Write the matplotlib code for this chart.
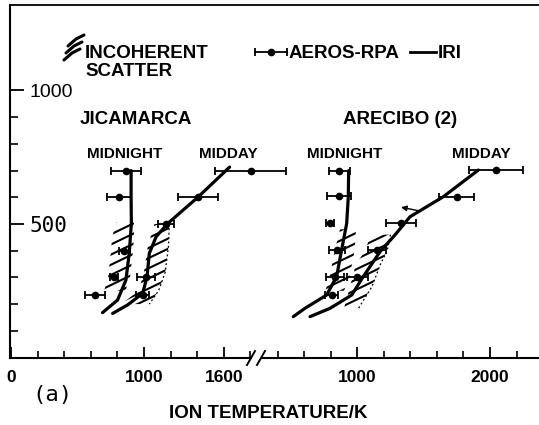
import matplotlib
matplotlib.use("Agg")
import numpy as np
import matplotlib.pyplot as plt
from matplotlib.lines import Line2D
from matplotlib.patches import Polygon
from matplotlib.ticker import FixedLocator

plt.rcParams['font.family'] = ['Liberation Sans', 'DejaVu Sans']
plt.rcParams['font.weight'] = 'bold'

# ---------------- data (altitude km, ion temperature K) ----------------
# Jicamarca (left panel)
jic_mn_alt = [700, 600, 400, 300, 235]
jic_mn_T = [864, 814, 851, 776, 630]
jic_mn_err = [110, 90, 40, 30, 75]
jic_md_alt = [700, 600, 500, 300, 235]
jic_md_T = [1802, 1405, 1166, 1015, 990]
jic_md_err = [270, 150, 60, 65, 50]
jic_iri_mn_alt = [700, 600, 502, 391, 290, 215, 168]
jic_iri_mn_T = [903, 903, 905, 889, 864, 801, 688]
jic_iri_md_alt = [713, 600, 502, 452, 390, 303, 240, 197, 165]
jic_iri_md_T = [1644, 1405, 1179, 1091, 1040, 1023, 990, 877, 764]
jic_is_mn_alt = [505, 450, 390, 300, 250]
jic_is_mn_lo = [790, 760, 750, 730, 700]
jic_is_mn_hi = [925, 925, 915, 895, 860]
jic_is_md_alt = [500, 420, 320, 250, 200]
jic_is_md_lo = [1080, 1030, 1000, 960, 830]
jic_is_md_hi = [1190, 1185, 1160, 1110, 1040]

# Arecibo (right panel)
are_mn_alt = [700, 605, 502, 403, 303, 234]
are_mn_T = [864, 864, 794, 849, 832, 807]
are_mn_err = [78, 90, 30, 62, 69, 50]
are_md_alt = [702, 602, 502, 403, 303]
are_md_T = [2045, 1749, 1330, 1146, 1000]
are_md_err = [200, 132, 110, 69, 80]
are_iri_mn_alt = [700, 600, 502, 403, 303, 234, 184, 153]
are_iri_mn_T = [935, 932, 920, 882, 844, 769, 605, 518]
are_iri_md_alt = [702, 602, 527, 459, 396, 303, 234, 184, 153]
are_iri_md_T = [1912, 1648, 1397, 1284, 1171, 1045, 958, 794, 644]
are_is_mn_alt = [480, 400, 300, 250]
are_is_mn_lo = [870, 830, 790, 760]
are_is_mn_hi = [990, 980, 940, 900]
are_is_md_alt = [460, 400, 350, 265, 185]
are_is_md_lo = [1100, 1060, 990, 945, 900]
are_is_md_hi = [1250, 1225, 1175, 1110, 1010]
are_arrow_T = [1497, 1309]
are_arrow_alt = [546, 565]

left_major = [0, 1000, 1600]
left_minor = [200, 400, 600, 800, 1200, 1400, 1800]
right_major = [1000, 2000]
right_minor = [400, 600, 800, 1200, 1400, 1600, 1800, 2200]
y_major = [500, 1000]
y_minor = [100, 200, 300, 400, 600, 700, 800, 900]

# ---------------- layout helpers ----------------
W, H = 539, 425
def fx(x):
    return x / W
def fy(y):
    return 1 - y / H

fig = plt.figure(figsize=(W / 100, H / 100), dpi=100)
bot, top = 357.5, 5
axL = fig.add_axes([fx(10), fy(bot), (251 - 10) / W, (bot - top) / H])
axR = fig.add_axes([fx(262), fy(bot), (539 - 262) / W, (bot - top) / H])

axL.set_xlim(-8, 1805)
axR.set_xlim(282, 2369)
for ax in (axL, axR):
    ax.set_ylim(0, 1320)
    ax.spines['top'].set_visible(False)
    ax.spines['right'].set_visible(False)
    ax.spines['bottom'].set_linewidth(1.5)
    ax.spines['left'].set_linewidth(1.5)
    ax.patch.set_alpha(0)
axR.spines['left'].set_visible(False)
axR.set_yticks([])

LW_IRI = 2.3


def band(ax, alt, lo, hi, dotted=False):
    """Incoherent-scatter band drawn as shallow diagonal hatch strokes."""
    verts = list(zip(lo, alt)) + list(zip(hi[::-1], alt[::-1]))
    poly = Polygon(verts, closed=True, facecolor='none', edgecolor='none')
    ax.add_patch(poly)
    x0, x1 = min(lo) - 200, max(hi) + 200
    slope = 0.24   # km per K  (~25 degrees on screen)
    step = 38      # km between strokes
    for b in np.arange(min(alt) - 400 + step / 2, max(alt) + 100, step):
        ln, = ax.plot([x0, x1], [b, b + slope * (x1 - x0)], color='k',
                      lw=1.5, solid_capstyle='butt')
        ln.set_clip_path(poly)
    if dotted:
        ax.plot(hi, alt, color='k', lw=0.9, ls=(0, (1.5, 2)))


def eb(ax, T, alt, err):
    c = ax.errorbar(T, alt, xerr=err, fmt='o', ms=4.5, color='k',
                    capsize=3, elinewidth=1.3, capthick=1.3)
    for a in [c[0], *c[1], *c[2]]:
        a.set_clip_on(False)

# Jicamarca
band(axL, jic_is_mn_alt, jic_is_mn_lo, jic_is_mn_hi)
band(axL, jic_is_md_alt, jic_is_md_lo, jic_is_md_hi, dotted=True)
axL.plot(jic_iri_mn_T, jic_iri_mn_alt, color='k', lw=LW_IRI, solid_capstyle='round')
axL.plot(jic_iri_md_T, jic_iri_md_alt, color='k', lw=LW_IRI, solid_capstyle='round')
eb(axL, jic_mn_T, jic_mn_alt, jic_mn_err)
eb(axL, jic_md_T, jic_md_alt, jic_md_err)

# Arecibo
band(axR, are_is_mn_alt, are_is_mn_lo, are_is_mn_hi)
band(axR, are_is_md_alt, are_is_md_lo, are_is_md_hi, dotted=True)
axR.plot(are_iri_mn_T, are_iri_mn_alt, color='k', lw=LW_IRI, solid_capstyle='round')
axR.plot(are_iri_md_T, are_iri_md_alt, color='k', lw=LW_IRI, solid_capstyle='round')
eb(axR, are_mn_T, are_mn_alt, are_mn_err)
eb(axR, are_md_T, are_md_alt, are_md_err)
axR.annotate('', xy=(are_arrow_T[1], are_arrow_alt[1]),
             xytext=(are_arrow_T[0], are_arrow_alt[0]),
             arrowprops=dict(arrowstyle='-|>', color='k', lw=1.0,
                             mutation_scale=8))

# ---------------- ticks ----------------
axL.xaxis.set_major_locator(FixedLocator(left_major))
axL.xaxis.set_minor_locator(FixedLocator(left_minor))
axL.set_xticklabels([str(v) for v in left_major])
axR.xaxis.set_major_locator(FixedLocator(right_major))
axR.xaxis.set_minor_locator(FixedLocator(right_minor))
axR.set_xticklabels([str(v) for v in right_major])
for ax in (axL, axR):
    ax.tick_params(axis='x', which='major', direction='in', length=8,
                   width=1.3, pad=9, labelsize=12.5)
    ax.tick_params(axis='x', which='minor', direction='in', length=5,
                   width=1.2)

axL.yaxis.set_major_locator(FixedLocator(y_major))
axL.yaxis.set_minor_locator(FixedLocator(y_minor))
axL.set_yticklabels([str(v) for v in y_major])
axL.tick_params(axis='y', which='major', direction='in', length=10,
                width=1.3, pad=-14)
axL.tick_params(axis='y', which='minor', direction='in', length=6, width=1.2)
ylabs = axL.get_yticklabels()
for lab in ylabs:
    lab.set_horizontalalignment('left')
ylabs[0].set_fontfamily('DejaVu Sans Mono')
ylabs[0].set_fontweight('normal')
ylabs[0].set_fontsize(15)
ylabs[1].set_fontsize(14)
ylabs[1].set_fontweight('normal')

# ---------------- decorations ----------------
fig.add_artist(Line2D([fx(10), fx(539)], [fy(top), fy(top)],
                      transform=fig.transFigure, color='k', lw=1.3))
for x0 in (247, 257):
    fig.add_artist(Line2D([fx(x0), fx(x0 + 8)], [fy(365), fy(351)],
                          transform=fig.transFigure, color='k', lw=1.4))

# legend: incoherent scatter symbol (three curved strokes)
for k in range(3):
    yy = 60 - 7 * k
    fig.add_artist(Line2D([fx(64 + 2 * k), fx(72 + 2 * k), fx(80 + 2 * k)],
                          [fy(yy), fy(yy - 7), fy(yy - 11)],
                          transform=fig.transFigure, color='k', lw=2.2,
                          solid_capstyle='round'))
fig.text(fx(85), fy(53), 'INCOHERENT', fontsize=13.5, va='center', ha='left')
fig.text(fx(85), fy(72), 'SCATTER', fontsize=13.5, va='center', ha='left')
# legend: AEROS-RPA
fig.add_artist(Line2D([fx(255), fx(287)], [fy(52), fy(52)],
                      transform=fig.transFigure, color='k', lw=1.3))
fig.add_artist(Line2D([fx(255), fx(287)], [fy(52), fy(52)],
                      transform=fig.transFigure, color='k', lw=0,
                      marker='|', ms=6, mew=1.3))
fig.add_artist(Line2D([fx(271)], [fy(52)], transform=fig.transFigure,
                      color='k', marker='o', ms=4.5, lw=0))
fig.text(fx(289), fy(53), 'AEROS-RPA', fontsize=13.5, va='center', ha='left')
# legend: IRI
fig.add_artist(Line2D([fx(410), fx(436)], [fy(52), fy(52)],
                      transform=fig.transFigure, color='k', lw=2.0))
fig.text(fx(438), fy(53), 'IRI', fontsize=13.5, va='center', ha='left')

# station and time labels
fig.text(fx(80), fy(120), 'JICAMARCA', fontsize=13.5, va='center', ha='left')
fig.text(fx(343), fy(120), 'ARECIBO (2)', fontsize=13.5, va='center', ha='left')
fig.text(fx(87), fy(154), 'MIDNIGHT', fontsize=11, va='center', ha='left')
fig.text(fx(199), fy(154), 'MIDDAY', fontsize=11, va='center', ha='left')
fig.text(fx(307), fy(154), 'MIDNIGHT', fontsize=11, va='center', ha='left')
fig.text(fx(452), fy(154), 'MIDDAY', fontsize=11, va='center', ha='left')

fig.text(fx(32), fy(395), '(a)', fontsize=16, family='DejaVu Sans Mono',
         fontweight='normal', va='center', ha='left')
fig.text(fx(268), fy(414), 'ION TEMPERATURE/K', fontsize=13.5,
         va='center', ha='center')

fig.savefig('out.png', dpi=100)
